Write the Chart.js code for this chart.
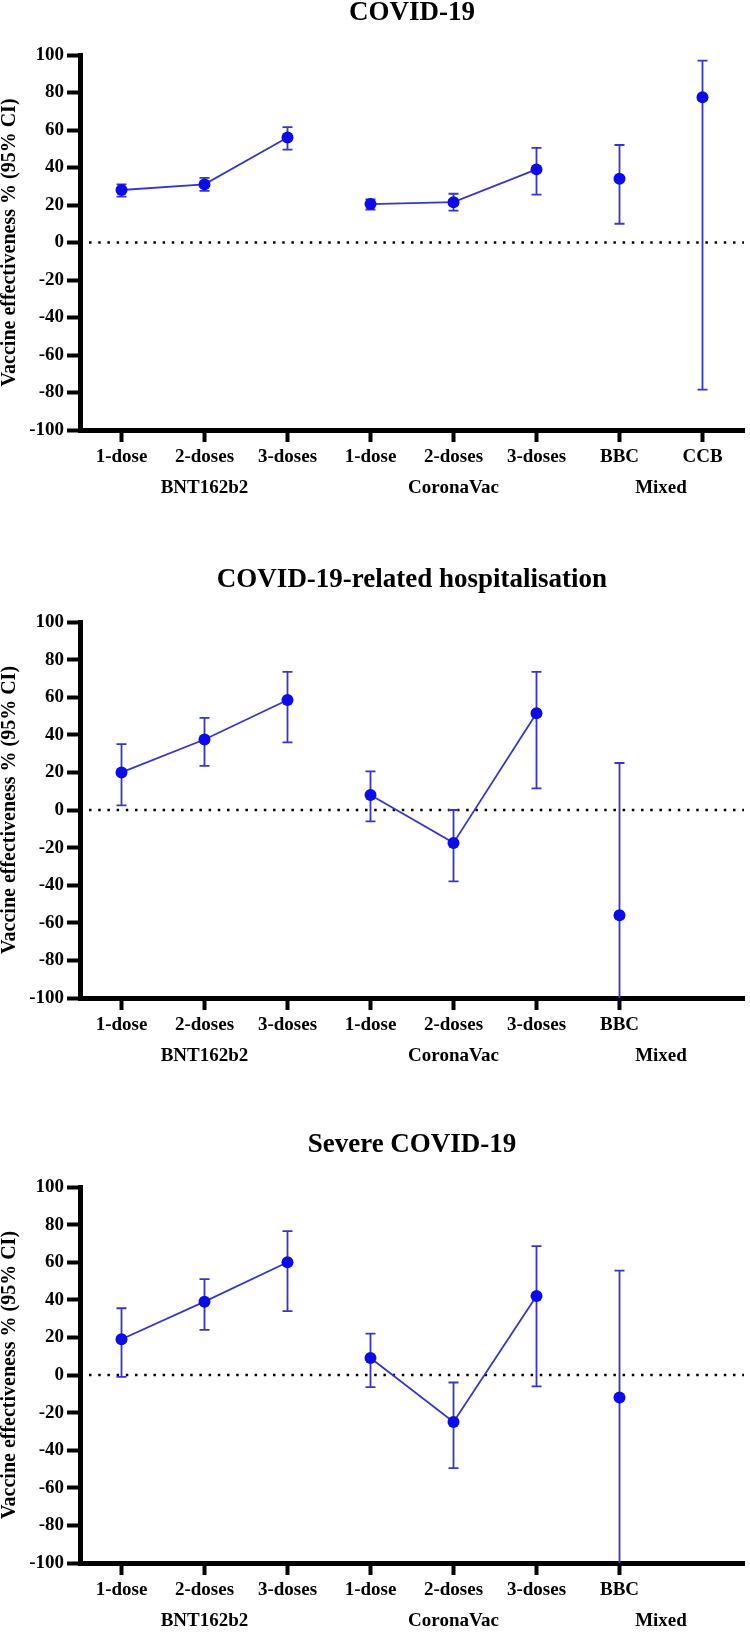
<!DOCTYPE html>
<html>
<head>
<meta charset="utf-8">
<script src="https://cdn.jsdelivr.net/npm/chart.js@4.4.1/dist/chart.umd.min.js"></script>
<style>
    body { margin: 0; background: #fff; width: 750px; height: 1632px; position: relative; overflow: hidden; }
    canvas { position: absolute; left: 0; }
</style>
</head>
<body>
<canvas id="chart1" width="750" height="498" style="top:0px"></canvas>
<canvas id="chart2" width="750" height="499" style="top:567px"></canvas>
<canvas id="chart3" width="750" height="499" style="top:1132px"></canvas>
<script>

// categories on the x axis
var categories = ["1-dose", "2-doses", "3-doses", "1-dose", "2-doses", "3-doses", "BBC", "CCB"];
var categoriesNoCCB = ["1-dose", "2-doses", "3-doses", "1-dose", "2-doses", "3-doses", "BBC", ""];

// vaccine groups, with their centre position on the category axis
var groupNames = ["BNT162b2", "CoronaVac", "Mixed"];
var groupCenters = [1, 4, 6.5];
var groupIndex = [0, 0, 0, 1, 1, 1, 2, 2];

// y axis ticks
var yTicks = [-100, -80, -60, -40, -20, 0, 20, 40, 60, 80, 100];

// COVID-19
var ve1 = [28, 31, 56, 20.5, 21.5, 39, 34, 77.5];
var lo1 = [24.5, 27.5, 49.5, 17.5, 17, 25.5, 10, -78.5];
var hi1 = [31, 34.5, 61.5, 23, 26, 50.5, 52, 97];

// COVID-19-related hospitalisation
var ve2 = [20, 37.5, 58.5, 8, -17.5, 51.5, -56, null];
var lo2 = [2.5, 23.5, 36, -6, -38, 11.5, -100, null];
var hi2 = [35, 49, 73.5, 20.5, 0, 73.5, 25, null];

// Severe COVID-19
var ve3 = [19, 39, 60, 9, -25, 42, -12, null];
var lo3 = [-1, 24, 34, -6.5, -49.5, -6, -100, null];
var hi3 = [35.5, 51, 76.5, 22, -4, 68.5, 55.5, null];


var blue = "#0c0ce8";
var lineBlue = "#3535d4";
var serif = "'Liberation Serif', 'Times New Roman', serif";

Chart.defaults.color = "#000";
Chart.defaults.font.family = serif;
Chart.defaults.font.weight = "bold";


// dotted zero line + error bars, drawn under the points
var errorBarPlugin = {
    id: "errorBars",
    beforeDatasetsDraw: function (chart, args, opts) {
        var ctx = chart.ctx;
        var xs = chart.scales.x;
        var ys = chart.scales.y;
        var area = chart.chartArea;

        // zero reference line
        ctx.save();
        ctx.strokeStyle = "#000";
        ctx.lineWidth = 2.5;
        ctx.setLineDash([2.5, 6.7]);
        ctx.beginPath();
        ctx.moveTo(area.left + 9, ys.getPixelForValue(0));
        ctx.lineTo(area.right, ys.getPixelForValue(0));
        ctx.stroke();
        ctx.restore();

        ctx.save();
        ctx.strokeStyle = lineBlue;
        ctx.lineWidth = 1.8;
        for (var i = 0; i < opts.lower.length; i++) {
            if (opts.lower[i] === null) {
                continue;
            }
            var x = xs.getPixelForValue(i);
            var yl = ys.getPixelForValue(opts.lower[i]);
            var yh = ys.getPixelForValue(opts.upper[i]);
            ctx.beginPath();
            ctx.moveTo(x, yl);
            ctx.lineTo(x, yh);
            // caps
            ctx.moveTo(x - 5, yh);
            ctx.lineTo(x + 5, yh);
            if (opts.lower[i] > -100) {
                ctx.moveTo(x - 5, yl);
                ctx.lineTo(x + 5, yl);
            }
            ctx.stroke();
        }
        ctx.restore();
    }
};


// split one series into the three groups so lines only join points in a group
function groupData(values, g) {
    return values.map(function (v, i) {
        return groupIndex[i] === g ? v : null;
    });
}


function makeChart(id, title, labels, values, lower, upper, hideLastTick) {
    var ctx = document.getElementById(id).getContext("2d");

    var datasets = [0, 1, 2].map(function (g) {
        return {
            data: groupData(values, g),
            borderColor: lineBlue,
            borderWidth: 1.8,
            backgroundColor: blue,
            pointBackgroundColor: blue,
            pointBorderWidth: 0,
            pointRadius: 6,
            showLine: g !== 2,
            spanGaps: false
        };
    });

    return new Chart(ctx, {
        type: "line",
        data: {
            labels: labels,
            datasets: datasets
        },
        options: {
            responsive: false,
            animation: false,
            events: [],
            layout: { padding: { top: 0, right: 6, bottom: 0, left: 0 } },
            plugins: {
                legend: { display: false },
                tooltip: { enabled: false },
                title: {
                    display: true,
                    text: title,
                    fullSize: false,
                    font: { size: 27, weight: "bold", lineHeight: 1 },
                    padding: { top: 0, bottom: 28 }
                },
                errorBars: { lower: lower, upper: upper }
            },
            scales: {
                x: {
                    type: "category",
                    offset: true,
                    weight: 0,
                    border: { display: true, color: "#000", width: 5 },
                    grid: {
                        display: true,
                        drawOnChartArea: false,
                        drawTicks: true,
                        tickLength: 12,
                        tickWidth: 4,
                        tickColor: function (c) {
                            return (hideLastTick && c.index === 7) ? "rgba(0,0,0,0)" : "#000";
                        },
                        offset: false
                    },
                    ticks: {
                        autoSkip: false,
                        maxRotation: 0,
                        padding: 4,
                        font: { size: 19, weight: "bold" }
                    },
                    afterFit: function (scale) { scale.height = 44; }
                },
                x2: {
                    type: "linear",
                    position: "bottom",
                    weight: 1,
                    min: -0.5,
                    max: 7.5,
                    border: { display: false },
                    grid: { display: false, drawTicks: false },
                    afterBuildTicks: function (scale) {
                        scale.ticks = groupCenters.map(function (v) { return { value: v }; });
                    },
                    ticks: {
                        autoSkip: false,
                        maxRotation: 0,
                        padding: 3,
                        font: { size: 19, weight: "bold" },
                        callback: function (value, index) {
                            return groupNames[index];
                        }
                    },
                    afterFit: function (scale) { scale.height = 24; }
                },
                y: {
                    min: -100,
                    max: 100,
                    border: { display: true, color: "#000", width: 5 },
                    grid: {
                        display: true,
                        drawOnChartArea: false,
                        drawTicks: true,
                        tickLength: 13,
                        tickWidth: 4,
                        tickColor: "#000"
                    },
                    afterBuildTicks: function (scale) {
                        scale.ticks = yTicks.map(function (v) { return { value: v }; });
                    },
                    ticks: {
                        padding: 3,
                        font: { size: 19, weight: "bold" }
                    },
                    title: {
                        display: true,
                        text: "Vaccine effectiveness % (95% CI)",
                        font: { size: 20, weight: "bold", lineHeight: 1 },
                        padding: 0
                    },
                    afterFit: function (scale) { scale.width = 80; }
                }
            }
        },
        plugins: [errorBarPlugin]
    });
}


makeChart("chart1", "COVID-19", categories, ve1, lo1, hi1, false);
makeChart("chart2", "COVID-19-related hospitalisation", categoriesNoCCB, ve2, lo2, hi2, true);
makeChart("chart3", "Severe COVID-19", categoriesNoCCB, ve3, lo3, hi3, true);

</script>
</body>
</html>
